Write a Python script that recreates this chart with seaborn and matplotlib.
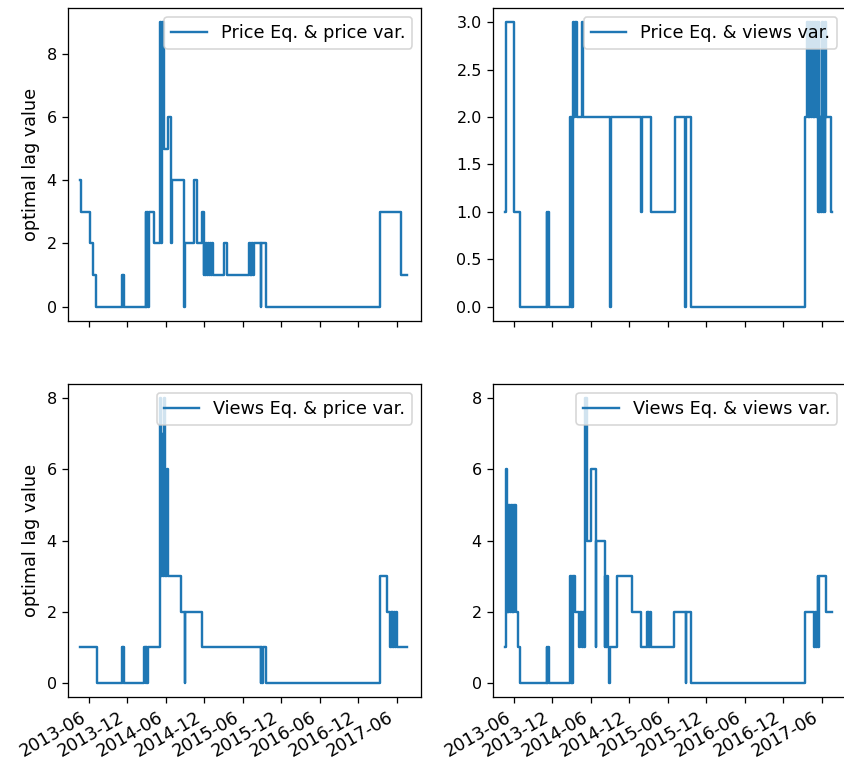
import matplotlib
matplotlib.use("Agg")
import matplotlib.pyplot as plt
import matplotlib.dates as mdates
import pandas as pd
import seaborn as sns

# Optimal lag (steps) over time for each equation / variable pair
pp_dates = ["2013-04-22", "2013-04-26", "2013-06-06", "2013-06-21", "2013-07-07",
            "2013-11-06", "2013-11-09", "2013-11-12", "2013-11-14",
            "2014-02-25", "2014-03-01", "2014-03-04", "2014-03-08", "2014-03-13",
            "2014-04-06", "2014-05-07", "2014-05-11", "2014-05-15", "2014-05-24", "2014-06-13", "2014-06-24", "2014-07-02",
            "2014-08-27", "2014-08-31", "2014-10-13", "2014-10-29", "2014-11-22", "2014-11-28",
            "2014-12-02", "2014-12-06", "2014-12-10", "2014-12-14", "2014-12-18", "2014-12-22", "2014-12-27", "2015-01-01", "2015-01-06", "2015-01-11",
            "2015-03-05", "2015-03-17", "2015-07-01", "2015-07-05", "2015-07-09", "2015-07-13", "2015-07-17", "2015-07-21", "2015-07-25",
            "2015-08-25", "2015-08-28", "2015-09-18", "2017-03-14", "2017-06-22", "2017-07-19"]
pp_lags = [4, 3, 2, 1, 0,
           1, 0, 1, 0,
           3, 0, 3, 0, 3,
           2, 9, 2, 9, 5, 6, 2, 4,
           0, 2, 4, 2, 3, 1,
           2, 1, 2, 1, 2, 1, 2, 1, 2, 1,
           2, 1, 2, 1, 2, 1, 2, 1, 2,
           0, 2, 0, 3, 1, 1]

pv_dates = ["2013-04-22", "2013-04-24", "2013-06-04", "2013-07-02",
            "2013-11-03", "2013-11-07", "2013-11-11", "2013-11-16",
            "2014-02-22", "2014-02-26", "2014-03-02", "2014-03-06", "2014-03-10", "2014-03-14", "2014-03-18", "2014-03-26",
            "2014-04-22", "2014-04-26", "2014-08-31", "2014-09-03",
            "2015-01-27", "2015-01-30", "2015-03-16", "2015-07-08", "2015-08-23", "2015-08-27", "2015-09-18",
            "2017-03-14", "2017-03-23", "2017-03-27", "2017-03-31", "2017-04-04", "2017-04-08", "2017-04-12", "2017-04-16",
            "2017-04-20", "2017-04-24", "2017-04-28", "2017-05-02", "2017-05-06",
            "2017-05-10", "2017-05-14", "2017-05-18", "2017-05-22", "2017-05-26", "2017-05-30", "2017-06-03", "2017-06-07",
            "2017-06-11", "2017-06-15", "2017-06-19",
            "2017-06-22", "2017-07-14", "2017-07-19"]
pv_lags = [1, 3, 1, 0,
           1, 0, 1, 0,
           2, 0, 2, 0, 3, 2, 3, 2,
           3, 2, 0, 2,
           1, 2, 1, 2, 0, 2, 0,
           2, 3, 2, 3, 2, 3, 2, 3,
           2, 3, 2, 3, 2,
           3, 1, 3, 1, 2, 1, 3, 1,
           2, 1, 3,
           2, 1, 1]

vp_dates = ["2013-04-22", "2013-07-10",
            "2013-11-06", "2013-11-09", "2013-11-12", "2013-11-17",
            "2014-02-20", "2014-02-25", "2014-03-01", "2014-03-05", "2014-03-09",
            "2014-05-05", "2014-05-10", "2014-05-14", "2014-05-19", "2014-05-22", "2014-05-27", "2014-06-08", "2014-06-12",
            "2014-08-11", "2014-08-30", "2014-09-02", "2014-11-22",
            "2015-08-25", "2015-08-29", "2015-09-02", "2015-09-06", "2015-09-18",
            "2017-03-14", "2017-04-15", "2017-04-30", "2017-05-04", "2017-05-08", "2017-05-12", "2017-05-16",
            "2017-05-20", "2017-05-24", "2017-05-28", "2017-06-01", "2017-07-19"]
vp_lags = [1, 0,
           1, 0, 1, 0,
           1, 0, 1, 0, 1,
           8, 3, 7, 3, 8, 3, 6, 3,
           2, 0, 2, 1,
           0, 1, 0, 1, 0,
           3, 2, 1, 2, 1, 2, 1,
           2, 1, 2, 1, 1]

vv_dates = ["2013-04-22", "2013-04-24", "2013-04-28", "2013-05-02", "2013-05-06", "2013-05-10", "2013-05-14",
            "2013-05-18", "2013-05-22", "2013-05-26", "2013-05-30", "2013-06-03",
            "2013-06-09", "2013-06-20", "2013-07-02",
            "2013-11-03", "2013-11-07", "2013-11-11", "2013-11-16",
            "2014-02-22", "2014-02-26", "2014-03-02", "2014-03-06", "2014-03-10", "2014-03-16",
            "2014-04-06", "2014-04-10", "2014-04-22", "2014-04-26", "2014-05-01", "2014-05-05", "2014-05-16",
            "2014-05-31", "2014-06-24", "2014-06-28",
            "2014-08-06", "2014-08-10", "2014-08-14", "2014-08-18", "2014-08-22", "2014-08-27", "2014-08-31",
            "2014-10-02", "2014-12-16", "2015-01-27",
            "2015-02-22", "2015-02-26", "2015-03-02", "2015-03-06", "2015-03-10", "2015-03-16",
            "2015-07-01", "2015-08-25", "2015-08-28", "2015-09-18",
            "2017-03-14", "2017-04-28", "2017-05-02", "2017-05-06", "2017-05-10", "2017-05-13", "2017-05-16",
            "2017-05-19", "2017-06-22", "2017-07-19"]
vv_lags = [1, 6, 2, 5, 2, 5, 2,
           5, 2, 5, 2, 5,
           2, 1, 0,
           1, 0, 1, 0,
           3, 0, 3, 0, 3, 2,
           1, 2, 1, 2, 1, 8, 4,
           6, 1, 4,
           1, 3, 1, 3, 1, 0, 1,
           3, 2, 1,
           2, 1, 2, 1, 2, 1,
           2, 0, 2, 0,
           2, 1, 2, 1, 2, 3, 1,
           3, 2, 2]

panel_labels = ["Price Eq. & price var.", "Price Eq. & views var.",
                "Views Eq. & price var.", "Views Eq. & views var."]
panel_dates = [pp_dates, pv_dates, vp_dates, vv_dates]
panel_lags = [pp_lags, pv_lags, vp_lags, vv_lags]
panel_yticks = [[0, 2, 4, 6, 8], [0.0, 0.5, 1.0, 1.5, 2.0, 2.5, 3.0],
                [0, 2, 4, 6, 8], [0, 2, 4, 6, 8]]
y_label = "optimal lag value"
tick_months = [6, 12]

DPI = 115
fig, axes = plt.subplots(2, 2, figsize=(844 / DPI, 763 / DPI), dpi=DPI, sharex=True)

for ax, label, dates, lags, yt in zip(axes.flat, panel_labels, panel_dates, panel_lags, panel_yticks):
    df = pd.DataFrame({"date": pd.to_datetime(dates), "lag": lags})
    sns.lineplot(data=df, x="date", y="lag", ax=ax, color="#1f77b4", linewidth=1.5,
                 drawstyle="steps-post", estimator=None, label=label)
    ax.legend(loc="upper right", fontsize=11)
    ax.set_xlabel("")
    ax.set_ylabel("")
    ax.set_yticks(yt)
    ax.tick_params(axis="x", labelsize=11)

for ax in axes[:, 0]:
    ax.set_ylabel(y_label, fontsize=11)

ax0 = axes[0, 0]
ax0.set_xlim(pd.Timestamp("2013-02-22"), pd.Timestamp("2017-09-25"))
ax0.xaxis.set_major_locator(mdates.MonthLocator(bymonth=tick_months))
ax0.xaxis.set_major_formatter(mdates.DateFormatter("%Y-%m"))

fig.autofmt_xdate(rotation=30, ha="right")
fig.subplots_adjust(left=68 / 844, right=846 / 844, top=1 - 8 / 763, bottom=1 - 697 / 763,
                    wspace=0.204, hspace=0.202)

fig.savefig("out.png", dpi=DPI)
